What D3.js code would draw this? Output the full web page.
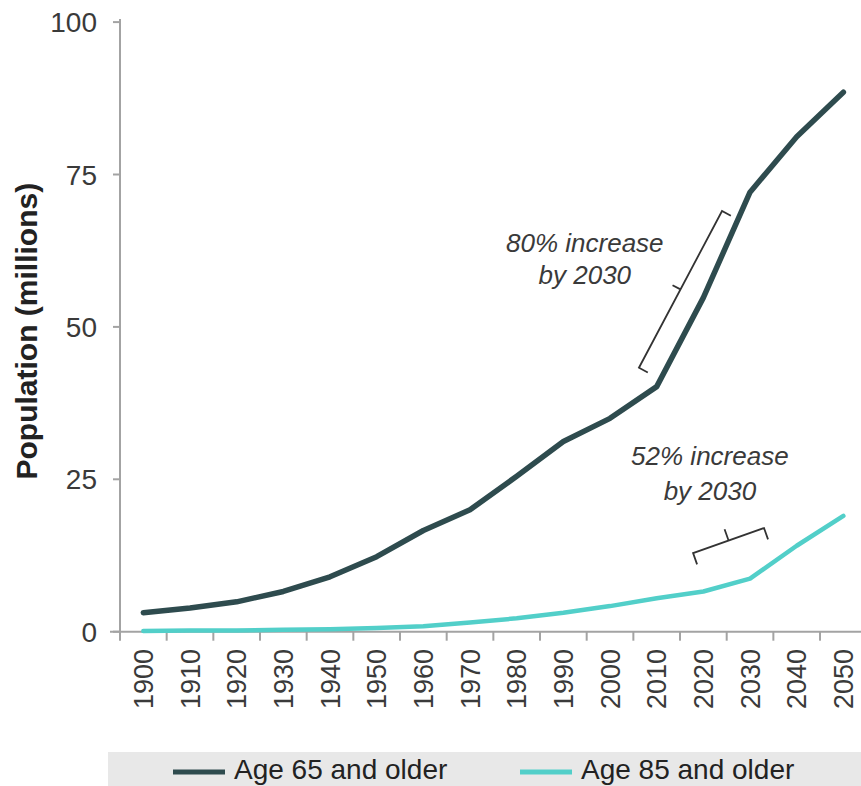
<!DOCTYPE html>
<html>
<head>
<meta charset="utf-8">
<script src="https://cdn.jsdelivr.net/npm/d3@7"></script>
<style>
  html, body { margin: 0; padding: 0; background: #ffffff; }
  svg { display: block; }
  text { font-family: "Liberation Sans", Arial, Helvetica, sans-serif; }
</style>
</head>
<body>
<svg id="chart" width="861" height="786"></svg>
<script>
// ---- Data ----
const years = ["1900","1910","1920","1930","1940","1950","1960","1970","1980","1990","2000","2010","2020","2030","2040","2050"];
const age65 = [3.1, 3.9, 4.9, 6.6, 9.0, 12.3, 16.6, 20.0, 25.5, 31.2, 35.0, 40.2, 54.8, 72.1, 81.2, 88.5];
const age85 = [0.1, 0.2, 0.2, 0.3, 0.4, 0.6, 0.9, 1.5, 2.2, 3.1, 4.2, 5.5, 6.6, 8.7, 14.1, 19.0];
const seriesNames = ["Age 65 and older", "Age 85 and older"];
const yTicks = [0, 25, 50, 75, 100];
const yLabel = "Population (millions)";
const note1 = ["80% increase", "by 2030"];
const note2 = ["52% increase", "by 2030"];

// ---- Layout ----
const svg = d3.select("#chart");
const colors = ["#2e4b4e", "#52cfc9"];
const x = d3.scaleBand().domain(years).range([120, 866.7]).paddingInner(0).paddingOuter(0);
const y = d3.scaleLinear().domain([0, 100]).range([631.7, 22.1]);
const bw = x.bandwidth();
const cx = d => x(d) + bw / 2;
// fractional year -> pixel (for annotations)
const xYear = yr => cx(years[0]) + (yr - 1900) / 10 * bw;

// Y axis
const axisColor = "#a3a3a3";
svg.append("line").attr("x1", 120).attr("x2", 120).attr("y1", y(100) - 3).attr("y2", y(0) + 8)
  .attr("stroke", axisColor).attr("stroke-width", 2);
yTicks.forEach(t => {
  svg.append("line").attr("x1", 113).attr("x2", 120).attr("y1", y(t)).attr("y2", y(t))
    .attr("stroke", axisColor).attr("stroke-width", 2);
  svg.append("text").attr("x", 97).attr("y", y(t)).attr("dy", "0.36em")
    .attr("text-anchor", "end").attr("font-size", 28).attr("fill", "#3a3a3a").text(t);
});
svg.append("text")
  .attr("transform", `translate(37, ${y(49.3)}) rotate(-90)`)
  .attr("text-anchor", "middle").attr("font-size", 30).attr("font-weight", "bold")
  .attr("fill", "#222").text(yLabel);

// X axis
svg.append("line").attr("x1", 110).attr("x2", 861).attr("y1", y(0)).attr("y2", y(0))
  .attr("stroke", axisColor).attr("stroke-width", 2);
years.forEach(d => {
  svg.append("line").attr("x1", x(d)).attr("x2", x(d)).attr("y1", y(0)).attr("y2", y(0) + 9)
    .attr("stroke", axisColor).attr("stroke-width", 2);
  svg.append("text")
    .attr("transform", `translate(${cx(d)}, 649) rotate(-90)`)
    .attr("text-anchor", "end").attr("dy", "0.36em")
    .attr("font-size", 27).attr("fill", "#3a3a3a").text(d);
});

// Lines
const line = d3.line().x((v, i) => cx(years[i])).y(v => y(v));
[age85, age65].forEach((s, k) => {
  const idx = k === 0 ? 1 : 0;
  svg.append("path").datum(s).attr("d", line).attr("fill", "none")
    .attr("stroke", colors[idx]).attr("stroke-width", idx === 0 ? 5.5 : 4.5)
    .attr("stroke-linejoin", "round").attr("stroke-linecap", "round");
});

// Annotations
function bracket(p1, p2, hookLen, tickLen) {
  const dx = p2[0] - p1[0], dy = p2[1] - p1[1];
  const L = Math.hypot(dx, dy);
  const nx = -dy / L, ny = dx / L; // perpendicular (towards the data line)
  const mx = (p1[0] + p2[0]) / 2, my = (p1[1] + p2[1]) / 2;
  const path = d3.path();
  path.moveTo(p1[0] + nx * hookLen, p1[1] + ny * hookLen);
  path.lineTo(p1[0], p1[1]);
  path.lineTo(p2[0], p2[1]);
  path.lineTo(p2[0] + nx * hookLen, p2[1] + ny * hookLen);
  path.moveTo(mx, my);
  path.lineTo(mx - nx * tickLen, my - ny * tickLen);
  svg.append("path").attr("d", path.toString()).attr("fill", "none")
    .attr("stroke", "#333").attr("stroke-width", 1.8);
}
bracket([xYear(2006.2), y(43.3)], [xYear(2024.0), y(69.0)], 10, 9);
bracket([xYear(2017.8), y(12.9)], [xYear(2033.0), y(17.0)], 12, 12);

function note(lines, yr, vals) {
  lines.forEach((t, i) => {
    svg.append("text").attr("x", xYear(yr)).attr("y", y(vals[i]))
      .attr("text-anchor", "middle").attr("font-size", 26).attr("font-style", "italic")
      .attr("fill", "#3a3a3a").text(t);
  });
}
note(note1, 1994.6, [62.3, 57.1]);
note(note2, 2021.4, [27.3, 21.6]);

// Legend
svg.append("rect").attr("x", 108).attr("y", 752).attr("width", 753).attr("height", 34).attr("fill", "#e8e8e8");
const legendX = [173, 520];
seriesNames.forEach((n, i) => {
  svg.append("line").attr("x1", legendX[i]).attr("x2", legendX[i] + 52).attr("y1", 772).attr("y2", 772)
    .attr("stroke", colors[i]).attr("stroke-width", 5);
  svg.append("text").attr("x", legendX[i] + 61).attr("y", 779)
    .attr("font-size", 28).attr("fill", "#222").text(n);
});
</script>
</body>
</html>
